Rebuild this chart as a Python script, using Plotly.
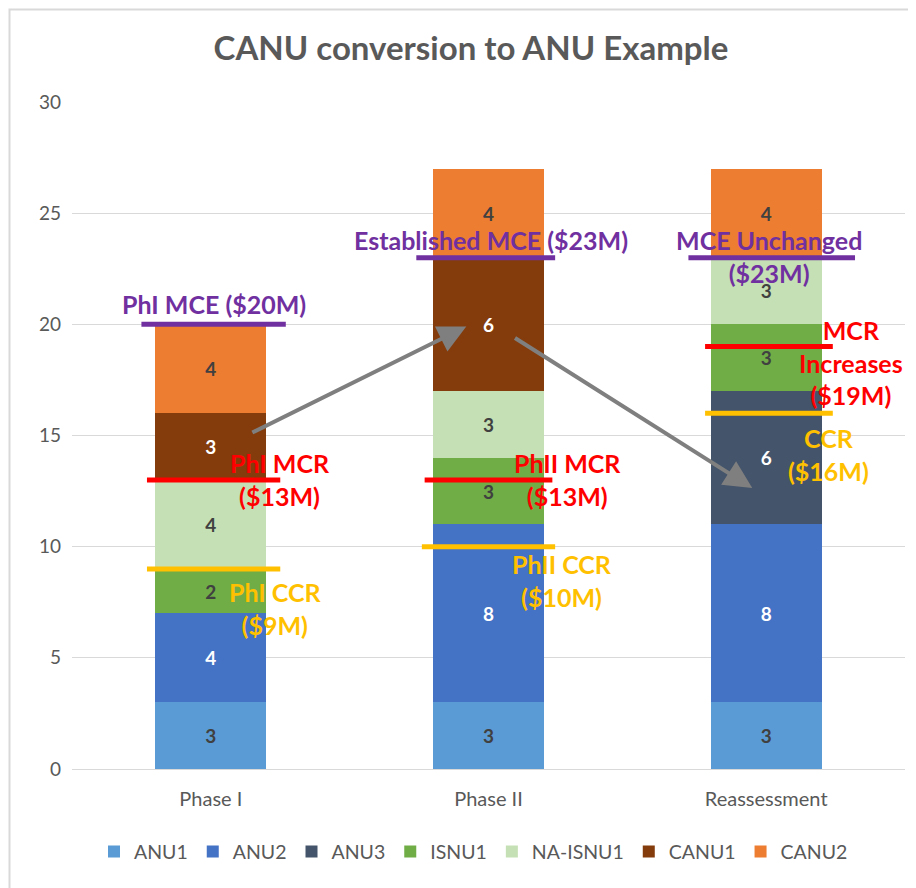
import plotly.graph_objects as go

categories = ["Phase I", "Phase II", "Reassessment"]
series_names = ["ANU1", "ANU2", "ANU3", "ISNU1", "NA-ISNU1", "CANU1", "CANU2"]
anu1 = [3, 3, 3]
anu2 = [4, 8, 8]
anu3 = [0, 0, 6]
isnu1 = [2, 3, 3]
na_isnu1 = [4, 3, 3]
canu1 = [3, 6, 0]
canu2 = [4, 4, 4]
series_values = [anu1, anu2, anu3, isnu1, na_isnu1, canu1, canu2]

mce = [20, 23, 23]
mcr = [13, 13, 19]
ccr = [9, 10, 16]

mce_labels = ["PhI MCE ($20M)", "Established MCE ($23M)", "MCE Unchanged<br>($23M)"]
mcr_labels = ["PhI MCR<br>($13M)", "PhII MCR<br>($13M)", "MCR<br>Increases<br>($19M)"]
ccr_labels = ["PhI CCR<br>($9M)", "PhII CCR<br>($10M)", "CCR<br>($16M)"]

y_ticks = [0, 5, 10, 15, 20, 25, 30]

# styling
colors = ["#5B9BD5", "#4472C4", "#44546A", "#70AD47", "#C5E0B4", "#843C0C", "#ED7D31"]
text_colors = ["#404040", "white", "white", "#404040", "#404040", "white", "#404040"]
FONT = "Lato"

fig = go.Figure()
for name, vals, c, tc in zip(series_names, series_values, colors, text_colors):
    fig.add_trace(go.Bar(
        name=name, x=categories, y=vals,
        marker=dict(color=c, line=dict(width=0)),
        text=[str(v) if v else "" for v in vals],
        textposition="inside", insidetextanchor="middle",
        textfont=dict(family=FONT, size=19, color=tc, weight="bold"),
        hoverinfo="skip",
    ))

shapes = []
annotations = []

# line extents (relative to category centre) and label positions
mce_ext = [(-0.25, 0.27), (-0.26, 0.24), (-0.28, 0.32)]
mcr_ext = [(-0.23, 0.25), (-0.23, 0.23), (-0.22, 0.24)]
ccr_ext = [(-0.23, 0.25), (-0.24, 0.24), (-0.22, 0.24)]
mce_pos = [(0.01, 20.9), (1.01, 23.8), (2.01, 23.05)]
mcr_pos = [(0.25, 13.0), (1.285, 13.0), (2.307, 18.3)]
ccr_pos = [(0.23, 7.2), (1.264, 8.5), (2.224, 14.15)]

for vals, ext, pos, labels, col in [
    (mce, mce_ext, mce_pos, mce_labels, "#7030A0"),
    (mcr, mcr_ext, mcr_pos, mcr_labels, "#FF0000"),
    (ccr, ccr_ext, ccr_pos, ccr_labels, "#FFC000"),
]:
    for i, v in enumerate(vals):
        shapes.append(dict(type="line", xref="x", yref="y",
                           x0=i + ext[i][0], x1=i + ext[i][1], y0=v, y1=v,
                           line=dict(color=col, width=5), layer="above"))
        annotations.append(dict(x=pos[i][0], y=pos[i][1], xref="x", yref="y",
                                text=labels[i], showarrow=False,
                                font=dict(family=FONT, size=25, color=col, weight="bold"),
                                align="center"))

# arrows (tail -> head)
arrows = [((0.144, 15.1), (0.92, 19.9)), ((1.09, 19.43), (1.95, 12.64))]
for (tx, ty), (hx, hy) in arrows:
    annotations.append(dict(x=hx, y=hy, ax=tx, ay=ty, xref="x", yref="y",
                            axref="x", ayref="y", text="", showarrow=True,
                            arrowhead=2, arrowsize=1.4, arrowwidth=4,
                            arrowcolor="#7F7F7F"))

# outer chart frame (page is offset by the 8px body margin)
PL, PT, PW, PH = 64, 94, 833, 667
shapes.append(dict(type="rect", xref="paper", yref="paper",
                   x0=(1.5 - PL) / PW, x1=(930 - PL) / PW,
                   y0=(PT + PH - 900) / PH, y1=(PT + PH - 1.5) / PH,
                   line=dict(color="#D9D9D9", width=2), layer="below"))

fig.update_layout(
    barmode="stack", bargap=0.6,
    width=908, height=880,
    margin=dict(l=PL, r=11, t=PT, b=119),
    paper_bgcolor="white", plot_bgcolor="white",
    font=dict(family=FONT, color="#595959"),
    title=dict(text="CANU conversion to ANU Example", x=(471 - 8) / 908, xanchor="center",
               y=1 - 40 / 880, yanchor="middle",
               font=dict(family=FONT, size=33, color="#595959", weight="bold")),
    xaxis=dict(range=[-0.5, 2.5], showline=True, linecolor="#D9D9D9", linewidth=1,
               ticks="", tickfont=dict(size=20, color="#595959"), showgrid=False,
               ticklabelstandoff=12),
    yaxis=dict(range=[0, 30], tickvals=y_ticks, showgrid=True, gridcolor="#D9D9D9",
               gridwidth=1, zeroline=False, showline=False, ticks="",
               tickfont=dict(size=19, color="#595959"), ticklabelstandoff=10),
    legend=dict(orientation="h", x=0.482, xanchor="center", y=-0.124, yanchor="middle",
                font=dict(size=19.5, color="#595959"), traceorder="normal"),
    shapes=shapes, annotations=annotations,
    showlegend=True,
)

fig.write_html("out.html")
